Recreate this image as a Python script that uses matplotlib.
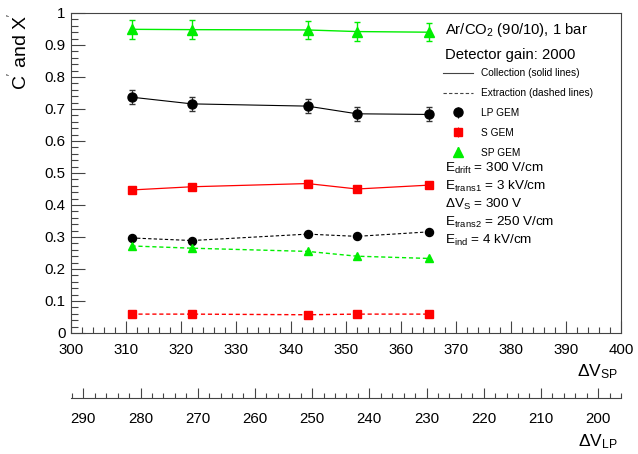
import matplotlib
matplotlib.use("Agg")
import matplotlib.pyplot as plt
from matplotlib.lines import Line2D
from matplotlib.ticker import MultipleLocator

plt.rcParams['font.family'] = ['Liberation Sans', 'DejaVu Sans']
plt.rcParams['mathtext.default'] = 'regular'

# data
dv_sp = [311, 322, 343, 352, 365]

lp_coll = [0.737, 0.716, 0.709, 0.685, 0.683]
lp_coll_err = [0.022, 0.022, 0.022, 0.022, 0.022]
s_coll = [0.447, 0.457, 0.467, 0.450, 0.462]
s_coll_err = [0.010, 0.010, 0.010, 0.010, 0.010]
sp_coll = [0.949, 0.948, 0.947, 0.942, 0.940]
sp_coll_err = [0.029, 0.029, 0.029, 0.029, 0.029]

lp_extr = [0.297, 0.289, 0.309, 0.302, 0.316]
s_extr = [0.059, 0.059, 0.057, 0.059, 0.059]
sp_extr = [0.272, 0.265, 0.255, 0.240, 0.233]

sp_range = (300, 400)
lp_range = (292.15, 196.0)

W, H = 638, 454
fig = plt.figure(figsize=(W / 100, H / 100), dpi=100)
ax = fig.add_axes([71 / W, (H - 333) / H, 550 / W, 320 / H])

green = '#00ee00'
red = '#ff0000'
dash = (0, (3, 2))

ax.errorbar(dv_sp, sp_coll, yerr=sp_coll_err, fmt='^-', color=green, ms=6.5,
            lw=1, capsize=2.5, elinewidth=1)
ax.errorbar(dv_sp, lp_coll, yerr=lp_coll_err, fmt='o-', color='black', ms=6.5,
            lw=0.8, capsize=2, elinewidth=0.8, ecolor='#333333')
ax.errorbar(dv_sp, s_coll, yerr=s_coll_err, fmt='s-', color=red, ms=6,
            lw=0.9, capsize=2, elinewidth=0.8)

ax.plot(dv_sp, lp_extr, 'o', ls=dash, color='black', ms=5.8, lw=0.8)
ax.plot(dv_sp, sp_extr, '^', ls=dash, color=green, ms=6, lw=1)
ax.plot(dv_sp, s_extr, 's', ls=dash, color=red, ms=6, lw=1)

ax.set_xlim(*sp_range)
ax.set_ylim(0, 1)
ax.xaxis.set_major_locator(MultipleLocator(10))
ax.xaxis.set_minor_locator(MultipleLocator(2))
ax.yaxis.set_major_locator(MultipleLocator(0.1))
ax.yaxis.set_minor_locator(MultipleLocator(0.02))
ax.yaxis.set_major_formatter(plt.FuncFormatter(lambda v, p: f"{v:g}"))

for s in ax.spines.values():
    s.set_color('#444444')
ax.tick_params(axis='both', which='both', direction='in', colors='#444444',
               labelcolor='black', labelsize=10.8, top=False, right=False)
ax.tick_params(axis='y', which='major', length=10, width=0.8, pad=4)
ax.tick_params(axis='y', which='minor', length=5, width=0.8)
ax.tick_params(axis='x', which='major', length=8.5, width=0.8, pad=7)
ax.tick_params(axis='x', which='minor', length=4.3, width=0.8)

ax.set_ylabel("C$^{'}$ and X$^{'}$", loc='top', fontsize=14, labelpad=9)

# second axis for the large-pitch voltage
ax2 = fig.add_axes([71 / W, (H - 398) / H, 550 / W, 0.01])
ax2.set_xlim(*lp_range)
ax2.set_yticks([])
for k in ['top', 'left', 'right']:
    ax2.spines[k].set_visible(False)
ax2.spines['bottom'].set_color('#444444')
ax2.patch.set_alpha(0)
ax2.xaxis.set_major_locator(MultipleLocator(10))
ax2.xaxis.set_minor_locator(MultipleLocator(2))
ax2.tick_params(axis='x', which='both', direction='in', colors='#444444',
                labelcolor='black', labelsize=10.8)
ax2.tick_params(axis='x', which='major', length=7.5, width=0.8, pad=10)
ax2.tick_params(axis='x', which='minor', length=3.8, width=0.8)

fig.text(618 / W, 1 - 372 / H, "ΔV$_{SP}$", ha='right', va='center', fontsize=12.5)
fig.text(618 / W, 1 - 442 / H, "ΔV$_{LP}$", ha='right', va='center', fontsize=12.5)

# header text and legend
ax.text(0.68, 0.947, "Ar/CO$_{2}$ (90/10), 1 bar", transform=ax.transAxes,
        fontsize=10.7, va='center')
ax.text(0.68, 0.869, "Detector gain: 2000", transform=ax.transAxes,
        fontsize=10.7, va='center')

h_coll = Line2D([], [], color='#444444', lw=0.8)
h_extr = Line2D([], [], color='#444444', lw=0.8, ls=dash)
h_lp = ax.errorbar([], [], yerr=[], fmt='o', color='black', ms=6.5, capsize=2, elinewidth=0.8)
h_s = ax.errorbar([], [], yerr=[], fmt='s', color=red, ms=6, capsize=2, elinewidth=0.8)
h_sp = ax.errorbar([], [], yerr=[], fmt='^', color=green, ms=6.5, capsize=2.5, elinewidth=1)
ax.legend([h_coll, h_extr, h_lp, h_s, h_sp],
          ["Collection (solid lines)", "Extraction (dashed lines)", "LP GEM", "S GEM", "SP GEM"],
          loc='upper left', bbox_to_anchor=(0.676, 0.827), frameon=False,
          fontsize=7.3, handlelength=3.0, handletextpad=0.8, labelspacing=0.97,
          borderpad=0, borderaxespad=0)

efields = ["E$_{drift}$ = 300 V/cm", "E$_{trans1}$ = 3 kV/cm", "ΔV$_{S}$ = 300 V",
           "E$_{trans2}$ = 250 V/cm", "E$_{ind}$ = 4 kV/cm"]
for i, t in enumerate(efields):
    ax.text(0.68, 0.513 - i * 0.0562, t, transform=ax.transAxes, fontsize=9.7, va='center')

fig.savefig("out.png", dpi=100)
